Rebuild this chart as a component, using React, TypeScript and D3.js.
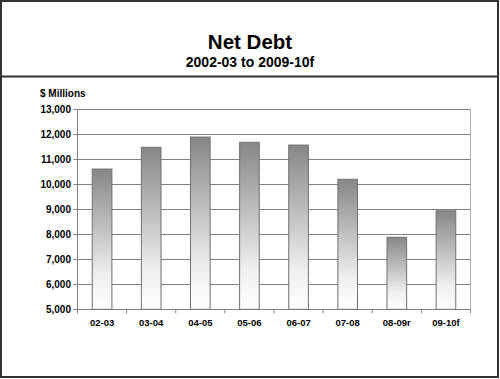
import React from "react";
import * as d3 from "d3";

const categories = ["02-03", "03-04", "04-05", "05-06", "06-07", "07-08", "08-09r", "09-10f"];
const netDebt = [10610, 11480, 11890, 11680, 11570, 10200, 7880, 8940];
const yTicks = [5000, 6000, 7000, 8000, 9000, 10000, 11000, 12000, 13000];

const W = 500;
const H = 379;
const FONT = "'Liberation Sans', Arial, sans-serif";

export default function App() {
  const left = 77.5;
  const right = 470.5;
  const top = 109.3;
  const bottom = 309.3;

  const x = d3.scaleBand<string>().domain(categories).range([left, right]).paddingInner(0.6).paddingOuter(0.3);
  const xb = d3.scaleBand<string>().domain(categories).range([left, right]);
  const y = d3.scaleLinear().domain([5000, 13000]).range([bottom, top]);
  const fmt = d3.format(",");

  return (
    <svg width={W} height={H} style={{ position: "absolute", left: 0, top: 0, fontFamily: FONT }}>
      <defs>
        <linearGradient id="barGrad" x1="0" y1="0" x2="0" y2="1">
          <stop offset="0%" stopColor="#878787" />
          <stop offset="40%" stopColor="#bdbdbd" />
          <stop offset="75%" stopColor="#eeeeee" />
          <stop offset="100%" stopColor="#ffffff" />
        </linearGradient>
      </defs>
      <rect x={0} y={0} width={W} height={H} fill="#fff" />
      <rect x={1} y={1} width={497} height={376} fill="none" stroke="#333" strokeWidth={2} />
      <line x1={0} x2={499} y1={76.5} y2={76.5} stroke="#333" strokeWidth={2} />

      <text x={250} y={49} textAnchor="middle" fontSize={20.5} fontWeight="bold" fill="#000">Net Debt</text>
      <text x={250} y={66.5} textAnchor="middle" fontSize={14} fontWeight="bold" fill="#000">2002-03 to 2009-10f</text>
      <text x={40} y={97} fontSize={10} fontWeight="bold" fill="#000">$ Millions</text>

      {yTicks.map((t) => (
        <g key={t}>
          <line x1={left} x2={right} y1={Math.round(y(t)) + 0.5} y2={Math.round(y(t)) + 0.5} stroke="#808080" strokeWidth={1} />
          <line x1={left - 4} x2={left} y1={Math.round(y(t)) + 0.5} y2={Math.round(y(t)) + 0.5} stroke="#808080" strokeWidth={1} />
          <text x={71} y={y(t) + 3.5} textAnchor="end" fontSize={10} fontWeight="bold" fill="#000">{fmt(t)}</text>
        </g>
      ))}
      <line x1={left} x2={left} y1={top} y2={bottom + 0.5} stroke="#808080" strokeWidth={1} />
      <line x1={right} x2={right} y1={top} y2={bottom + 0.5} stroke="#b0b0b0" strokeWidth={1} />

      {categories.map((c, i) => (
        <rect
          key={c}
          x={x(c)!}
          y={y(netDebt[i])}
          width={x.bandwidth()}
          height={bottom - y(netDebt[i])}
          fill="url(#barGrad)"
          stroke="#707070"
          strokeWidth={1}
        />
      ))}

      {categories.map((c) => (
        <line key={"t" + c} x1={xb(c)!} x2={xb(c)!} y1={bottom} y2={bottom + 4} stroke="#808080" strokeWidth={1} />
      ))}
      <line x1={right} x2={right} y1={bottom} y2={bottom + 4} stroke="#808080" strokeWidth={1} />

      {categories.map((c) => (
        <text key={"l" + c} x={xb(c)! + xb.bandwidth() / 2} y={326} textAnchor="middle" fontSize={9.5} fontWeight="bold" fill="#000">{c}</text>
      ))}
    </svg>
  );
}
